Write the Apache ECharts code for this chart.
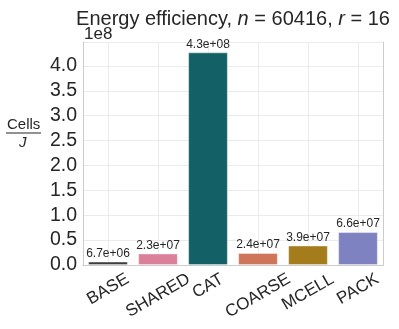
<!DOCTYPE html>
<html>
<head>
<meta charset="utf-8">
<script src="https://cdn.jsdelivr.net/npm/echarts@6/dist/echarts.min.js"></script>
<style>
  html, body { margin: 0; padding: 0; background: #fff; }
  #main { width: 399px; height: 329px; }
</style>
</head>
<body>
<div id="main"></div>
<script>
var categories = ['BASE', 'SHARED', 'CAT', 'COARSE', 'MCELL', 'PACK'];
var cellsPerJoule = [6.7e6, 2.3e7, 4.27e8, 2.4e7, 3.9e7, 6.6e7];
var barColours = ['#3d3d3d', '#dc7f9b', '#136166', '#cf765a', '#a47c1b', '#7e82c0'];
var yMax = 4.48e8;
var yStep = 0.5e8;

var FONT = '"Liberation Sans", Arial, sans-serif';
var CAT_FONT_SIZE = 17;
var CAT_ROTATE = 30;

// 4.3e+08 style, like matplotlib's %.1e
function sci(v) {
  var s = v.toExponential(1);
  var parts = s.split('e');
  var exp = parseInt(parts[1], 10);
  var sign = exp < 0 ? '-' : '+';
  exp = Math.abs(exp);
  return parts[0] + 'e' + sign + (exp < 10 ? '0' + exp : exp);
}

// 13 slots so that odd ones land on category centres (for vertical grid lines)
var halfSlots = [];
for (var i = 0; i <= categories.length * 2; i++) halfSlots.push(i);

var chart = echarts.init(document.getElementById('main'), null, { renderer: 'canvas' });

var option = {
  backgroundColor: '#fff',
  animation: false,
  textStyle: { fontFamily: FONT },
  title: {
    text: 'Energy efficiency, {i|n} = 60416, {i|r} = 16',
    left: 228,
    top: 4,
    textAlign: 'center',
    textStyle: {
      fontFamily: FONT,
      fontSize: 20,
      fontWeight: 'normal',
      color: '#262626',
      rich: {
        i: { fontFamily: FONT, fontSize: 20, fontStyle: 'italic', color: '#262626' }
      }
    }
  },
  grid: { left: 83, right: 16, top: 42, bottom: 64, containLabel: false },
  xAxis: [{
    type: 'category',
    data: categories,
    axisLine: { show: true, lineStyle: { color: '#cccccc', width: 1 } },
    axisTick: { show: false },
    splitLine: { show: false },
    axisLabel: { show: false },
    z: 3
  }, {
    type: 'category',
    data: halfSlots,
    boundaryGap: false,
    position: 'top',
    axisLine: { show: true, lineStyle: { color: '#cccccc', width: 1 } },
    axisTick: { show: false },
    axisLabel: { show: false },
    splitLine: {
      show: true,
      interval: function (idx) { return idx % 2 === 1; },
      lineStyle: { color: '#ebebeb', width: 1 }
    }
  }],
  yAxis: [{
    type: 'value',
    min: 0,
    max: yMax,
    interval: yStep,
    axisLine: { show: true, lineStyle: { color: '#cccccc', width: 1 } },
    axisTick: { show: false },
    splitLine: { show: true, lineStyle: { color: '#ebebeb', width: 1 } },
    axisLabel: {
      showMaxLabel: false,
      margin: 6,
      fontSize: 19.5,
      color: '#262626',
      fontFamily: FONT,
      formatter: function (v) { return (v / 1e8).toFixed(1); }
    }
  }, {
    type: 'value',
    position: 'right',
    min: 0,
    max: yMax,
    axisLine: { show: true, lineStyle: { color: '#cccccc', width: 1 } },
    axisTick: { show: false },
    axisLabel: { show: false },
    splitLine: { show: false }
  }],
  series: [{
    type: 'bar',
    xAxisIndex: 0,
    yAxisIndex: 0,
    barCategoryGap: '21%',
    data: cellsPerJoule.map(function (v, k) {
      return { value: v, itemStyle: { color: barColours[k] } };
    }),
    itemStyle: { borderColor: 'rgba(255,255,255,0.5)', borderWidth: 0.8 },
    label: {
      show: true,
      position: 'top',
      distance: 2,
      fontSize: 12,
      color: '#262626',
      fontFamily: FONT,
      formatter: function (p) { return sci(p.value); }
    },
    z: 2
  }],
  graphic: [
    {
      type: 'text',
      left: 84,
      top: 26,
      style: { text: '1e8', fill: '#262626', font: '17px ' + FONT }
    },
    {
      type: 'text',
      left: 7,
      top: 117,
      style: { text: 'Cells', fill: '#262626', font: '15px ' + FONT }
    },
    {
      type: 'line',
      shape: { x1: 6, y1: 133, x2: 41, y2: 133 },
      style: { stroke: '#262626', lineWidth: 1.2 }
    },
    {
      type: 'text',
      left: 19,
      top: 135,
      style: { text: 'J', fill: '#262626', font: 'italic 15px ' + FONT }
    }
  ]
};

chart.setOption(option);

// category labels, matplotlib style: rotated, centred on the tick,
// with the top of the rotated box just under the axis (long labels hang lower)
var measureCtx = document.createElement('canvas').getContext('2d');
measureCtx.font = CAT_FONT_SIZE + 'px ' + FONT;
var rad = CAT_ROTATE * Math.PI / 180;
var axisY = chart.convertToPixel({ yAxisIndex: 0 }, 0);
var catLabels = categories.map(function (c) {
  var cx = chart.convertToPixel({ xAxisIndex: 0 }, c);
  var w = measureCtx.measureText(c).width;
  var h = CAT_FONT_SIZE * 0.8;
  var cy = axisY + 7 + (w * Math.sin(rad) + h * Math.cos(rad)) / 2;
  return {
    type: 'text',
    x: cx,
    y: cy,
    rotation: rad,
    style: {
      text: c,
      x: 0,
      y: 0,
      font: CAT_FONT_SIZE + 'px ' + FONT,
      fill: '#262626',
      align: 'center',
      verticalAlign: 'middle',
      textAlign: 'center',
      textVerticalAlign: 'middle'
    }
  };
});
chart.setOption({ graphic: option.graphic.concat(catLabels) });
</script>
</body>
</html>
